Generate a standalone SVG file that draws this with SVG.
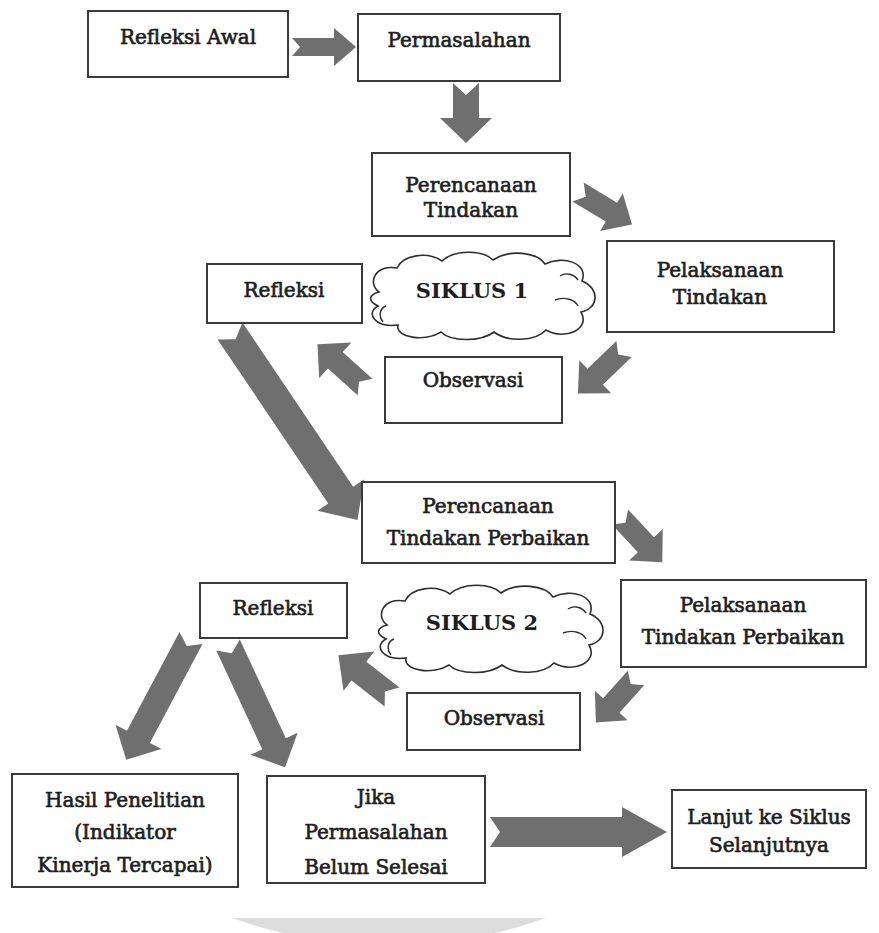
<svg xmlns="http://www.w3.org/2000/svg" width="879" height="933" viewBox="0 0 879 933">
<defs>
<style>
.box{fill:#fff;stroke:#3a3a3a;stroke-width:2}
.t{font-family:"DejaVu Serif","Liberation Serif",serif;font-size:20px;fill:#1e1e1e;stroke:#1e1e1e;stroke-width:0.65;text-anchor:middle}
.tb{font-family:"DejaVu Serif","Liberation Serif",serif;font-size:21px;font-weight:bold;fill:#1e1e1e;text-anchor:middle}
.ar{fill:#6f6f6f}
.cloud{fill:#fff;stroke:#2e2e2e;stroke-width:1.6}
.curl{fill:none;stroke:#2e2e2e;stroke-width:1.4}
</style>
<path id="cloudShape" d="M14,42 C2,33 10,14 32,18 C38,5 62,1 77,11 C90,-1 118,0 128,10 C144,-1 172,2 180,14 C198,5 224,13 217,31 C236,39 233,59 216,62 C226,79 200,91 181,80 C170,92 142,92 129,82 C116,92 86,92 76,82 C60,92 30,88 33,75 C10,78 0,63 13,56 C3,51 3,45 14,42 Z"/>
</defs>
<rect width="879" height="933" fill="#fff"/>
<path d="M232,918 L546,918 Q470,945 389,945 Q308,945 232,918 Z" fill="#dcdcdc"/>

<g id="connectors">
<polygon class="ar" transform="translate(292,47)" points="0,-9 42,-9 42,-19 64,0 42,19 42,9 0,9 8,0"/>
<polygon class="ar" transform="translate(466,83) rotate(90)" points="0,-13 35,-13 35,-26 60,0 35,26 35,13 0,13 12,0"/>
<polygon class="ar" transform="translate(578,192) rotate(31)" points="0,-11 39,-11 39,-22 63,0 39,22 39,11 0,11 9,0"/>
<polygon class="ar" transform="translate(624,349) rotate(136)" points="0,-11 40,-11 40,-23 64,0 40,23 40,11 0,11 8,0"/>
<polygon class="ar" transform="translate(365,387) rotate(222)" points="0,-11 40,-11 40,-24 64,0 40,24 40,11 0,11 8,0"/>
<polygon class="ar" transform="translate(230,331) rotate(56)" points="0,-15 198,-15 198,-28 228,0 198,28 198,15 0,15 10,0"/>
<polygon class="ar" transform="translate(620,517) rotate(47)" points="0,-11 38,-11 38,-23 62,0 38,23 38,11 0,11 8,0"/>
<polygon class="ar" transform="translate(636,678) rotate(132)" points="0,-11 37,-11 37,-22 60,0 37,22 37,11 0,11 8,0"/>
<polygon class="ar" transform="translate(392,697) rotate(218)" points="0,-12 42,-12 42,-25 68,0 42,25 42,12 0,12 9,0"/>
<polygon class="ar" transform="translate(191,638) rotate(118)" points="0,-13 112,-13 112,-26 138,0 112,26 112,13 0,13 9,0"/>
<polygon class="ar" transform="translate(228,645) rotate(65)" points="0,-13 109,-13 109,-26 135,0 109,26 109,13 0,13 9,0"/>
<polygon class="ar" transform="translate(490,832)" points="0,-15 132,-15 132,-25 177,0 132,25 132,15 0,15 10,0"/>
</g>

<g id="refleksi-awal">
<rect class="box" x="88" y="11" width="200" height="66"/>
<text class="t" x="188" y="44">Refleksi Awal</text>
</g>
<g id="permasalahan">
<rect class="box" x="358" y="14" width="202" height="67"/>
<text class="t" x="459" y="47">Permasalahan</text>
</g>
<g id="perencanaan-1">
<rect class="box" x="372" y="153" width="198" height="83"/>
<text class="t" x="471" y="192">Perencanaan</text>
<text class="t" x="471" y="217">Tindakan</text>
</g>
<g id="pelaksanaan-1">
<rect class="box" x="607" y="241" width="227" height="91"/>
<text class="t" x="720" y="277">Pelaksanaan</text>
<text class="t" x="720" y="304">Tindakan</text>
</g>
<g id="refleksi-1">
<rect class="box" x="207" y="264" width="155" height="59"/>
<text class="t" x="284" y="297">Refleksi</text>
</g>
<g id="siklus-1">
<use href="#cloudShape" class="cloud" transform="translate(365,250)"/>
<path class="curl" d="M383,322 C378,316 380,308 386,306 M555,300 C565,296 575,300 578,306 M560,276 C566,272 574,274 578,280"/>
<text class="tb" x="472" y="298">SIKLUS 1</text>
</g>
<g id="observasi-1">
<rect class="box" x="385" y="357" width="177" height="66"/>
<text class="t" x="473" y="387">Observasi</text>
</g>
<g id="perencanaan-2">
<rect class="box" x="362" y="482" width="253" height="81"/>
<text class="t" x="488" y="513">Perencanaan</text>
<text class="t" x="488" y="545">Tindakan Perbaikan</text>
</g>
<g id="pelaksanaan-2">
<rect class="box" x="621" y="580" width="245" height="87"/>
<text class="t" x="743" y="612">Pelaksanaan</text>
<text class="t" x="743" y="644">Tindakan Perbaikan</text>
</g>
<g id="refleksi-2">
<rect class="box" x="200" y="583" width="147" height="55"/>
<text class="t" x="273" y="615">Refleksi</text>
</g>
<g id="siklus-2">
<use href="#cloudShape" class="cloud" transform="translate(373,583)"/>
<path class="curl" d="M391,655 C386,649 388,641 394,639 M563,633 C573,629 583,633 586,639 M568,609 C574,605 582,607 586,613"/>
<text class="tb" x="482" y="630">SIKLUS 2</text>
</g>
<g id="observasi-2">
<rect class="box" x="407" y="693" width="173" height="57"/>
<text class="t" x="494" y="725">Observasi</text>
</g>
<g id="hasil">
<rect class="box" x="12" y="774" width="226" height="113"/>
<text class="t" x="125" y="807">Hasil Penelitian</text>
<text class="t" x="125" y="839">(Indikator</text>
<text class="t" x="125" y="872">Kinerja Tercapai)</text>
</g>
<g id="jika">
<rect class="box" x="267" y="776" width="218" height="107"/>
<text class="t" x="376" y="804">Jika</text>
<text class="t" x="376" y="839">Permasalahan</text>
<text class="t" x="376" y="874">Belum Selesai</text>
</g>
<g id="lanjut">
<rect class="box" x="672" y="790" width="194" height="78"/>
<text class="t" x="769" y="824">Lanjut ke Siklus</text>
<text class="t" x="769" y="852">Selanjutnya</text>
</g>
</svg>
